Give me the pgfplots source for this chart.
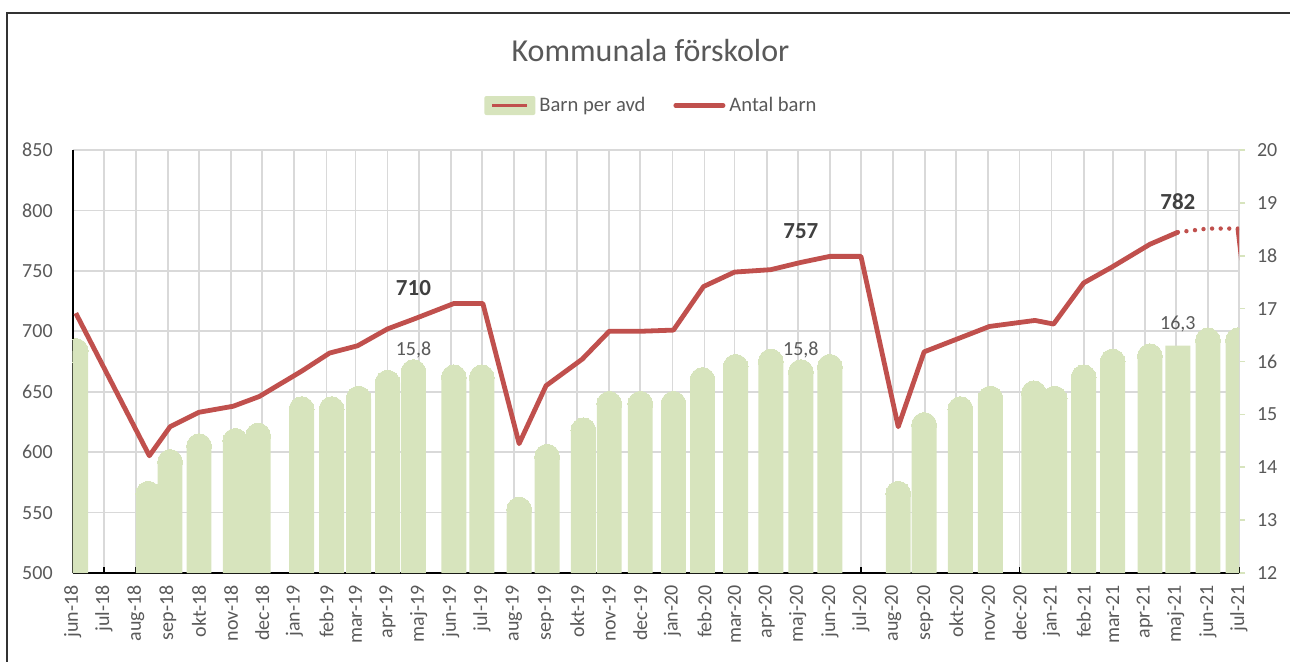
\documentclass[border=0pt]{standalone}
\usepackage{fontspec}
\setmainfont{Carlito}
\usepackage{pgfplots}
\pgfplotsset{compat=1.18}
\usepackage{pgfplotstable}
\definecolor{barg}{HTML}{D7E4BD}
\definecolor{linered}{HTML}{C0504D}
\definecolor{gridc}{HTML}{D9D9D9}
\definecolor{txt}{HTML}{595959}
\definecolor{lbl}{HTML}{404040}

% x = days since 2018-06-01
\pgfplotstableread{
d v
3 715
74 597
94 621
122 633
155 638
180 646
221 667
248 682
275 688
304 702
329 710
368 723
396 723
431 607
457 655
492 677
518 700
548 700
580 701
609 737
639 749
674 751
703 757
731 762
761 762
797 621
822 683
855 694
885 704
929 709
947 706
976 740
1003 753
1040 772
1067 782
}\antal
\pgfplotstableread{
d v
1067 782
1096 785
1125 785
}\antaldot
\pgfplotstableread{
d v
1125 785
1150 600
}\antalend
\pgfplotstableread{
d v
3 16.2
73 13.5
94 14.1
122 14.4
157 14.5
179 14.6
221 15.1
250 15.1
276 15.3
304 15.6
329 15.8
368 15.7
395 15.7
431 13.2
458 14.2
493 14.7
518 15.2
548 15.2
580 15.2
608 15.65
640 15.9
674 16.0
703 15.8
731 15.9
797 13.5
822 14.8
857 15.1
886 15.3
928 15.4
948 15.3
976 15.7
1004 16.0
1040 16.1
1067 16.3
1096 16.4
1125 16.4
}\barn
\pgfplotstableread{
d v lab
329 710 710
703 757 757
1067 782 782
}\antallab
\pgfplotstableread{
d v lab
329 15.8 15,8
703 15.8 15,8
1067 16.3 16,3
}\barnlab

\begin{document}
\begin{tikzpicture}
\useasboundingbox (-36.35pt,-44pt) rectangle (608.65pt,286.5pt);
\draw[line width=1pt, black!80] (-32.85pt,-50pt) -- (-32.85pt,280.25pt) -- (620pt,280.25pt);
\node[anchor=base, font=\fontsize{16}{19}\selectfont, text=txt] at (288.9pt,255.65pt) {Kommunala förskolor};

% right axis (Barn per avd scale)
\begin{axis}[
  at={(0pt,0pt)}, anchor=south west, scale only axis,
  width=583.15pt, height=211.5pt,
  xmin=0, xmax=1126, ymin=12, ymax=20,
  axis x line=none, axis y line*=right,
  ytick={12,13,...,20},
  y axis line style={barg, line width=1pt},
  ytick style={barg, line width=0.8pt},
  tick align=outside, major tick length=3pt,
  /pgf/number format/assume math mode=true,
  yticklabel style={font=\fontsize{10}{12}\selectfont, text=txt},
  yticklabel shift=2.5pt,
]
\addplot[draw=none] coordinates {(0,12)};
\end{axis}

% main axis
\begin{axis}[
  at={(0pt,0pt)}, anchor=south west, scale only axis,
  width=583.15pt, height=211.5pt,
  xmin=0, xmax=1126, ymin=500, ymax=850,
  clip marker paths=true,
  axis lines*=left,
  axis line style={black, line width=0.9pt},
  xtick={0,30,61,92,122,153,183,214,245,273,304,334,365,395,426,457,487,518,548,579,610,639,670,700,731,761,792,823,853,884,914,945,976,1004,1035,1065,1096,1126},
  xticklabels={jun-18,jul-18,aug-18,sep-18,okt-18,nov-18,dec-18,jan-19,feb-19,mar-19,apr-19,maj-19,jun-19,jul-19,aug-19,sep-19,okt-19,nov-19,dec-19,jan-20,feb-20,mar-20,apr-20,maj-20,jun-20,jul-20,aug-20,sep-20,okt-20,nov-20,dec-20,jan-21,feb-21,mar-21,apr-21,maj-21,jun-21,jul-21},
  ytick={500,550,...,850},
  grid=major,
  major grid style={gridc, line width=0.9pt},
  tick align=inside, major tick length=3pt,
  xtick style={black, line width=0.8pt},
  ytick style={draw=none},
  /pgf/number format/assume math mode=true,
  yticklabel style={font=\fontsize{10}{12}\selectfont, text=txt},
  yticklabel shift=6.5pt,
  xticklabel style={font=\fontsize{10}{12}\selectfont, text=txt, rotate=90, anchor=east},
  xticklabel shift=2.7pt,
  legend columns=2,
  legend style={at={(0.4971,1.1052)}, anchor=center, draw=none, fill=none,
    font=\fontsize{10.3}{12}\selectfont, text=txt,
    /tikz/every even column/.append style={column sep=12pt}},
]
\addplot[ybar, bar width=24, fill=barg, draw=none,
  legend image code/.code={
    \fill[barg, rounded corners=1pt] (0pt,-4.75pt) rectangle (25.5pt,4.75pt);
    \draw[linered, line width=1.5pt] (4pt,0pt) -- (21.5pt,0pt);}]
  table[x=d, y expr=500+(\thisrow{v}-12)*43.75] {\barn};
\addlegendentry{Barn per avd}
\addplot[only marks, mark=*, mark size=6.2pt, color=barg, fill=barg, draw=barg, line width=0pt,
  mark options={color=barg, fill=barg, draw=barg, line width=0pt},
  forget plot, skip coords between index={33}{34}]
  table[x=d, y expr=500+(\thisrow{v}-12)*43.75] {\barn};
\addplot[linered, line width=2.4pt, line join=round, mark=none,
  legend image code/.code={
    \draw[linered, line width=2.2pt, line cap=round] (0pt,0pt) -- (23.8pt,0pt);}]
  table[x=d, y=v] {\antal};
\addlegendentry{Antal barn}
\addplot[linered, line width=2.2pt, dash pattern=on 0pt off 4.3pt, line cap=round, mark=none, forget plot]
  table[x=d, y=v] {\antaldot};
\addplot[linered, line width=2.4pt, mark=none, forget plot]
  table[x=d, y=v] {\antalend};
\addplot[draw=none, mark=none, forget plot, nodes near coords, point meta=explicit symbolic,
  nodes near coords style={anchor=center, yshift=15.5pt, text=lbl, font=\fontsize{11.5}{13}\selectfont\bfseries}]
  table[x=d, y=v, meta=lab] {\antallab};
\addplot[draw=none, mark=none, forget plot, nodes near coords, point meta=explicit symbolic,
  nodes near coords style={anchor=center, yshift=11pt, text=txt, font=\fontsize{10}{12}\selectfont}]
  table[x=d, y expr=500+(\thisrow{v}-12)*43.75, meta=lab] {\barnlab};
\end{axis}
\end{tikzpicture}
\end{document}
